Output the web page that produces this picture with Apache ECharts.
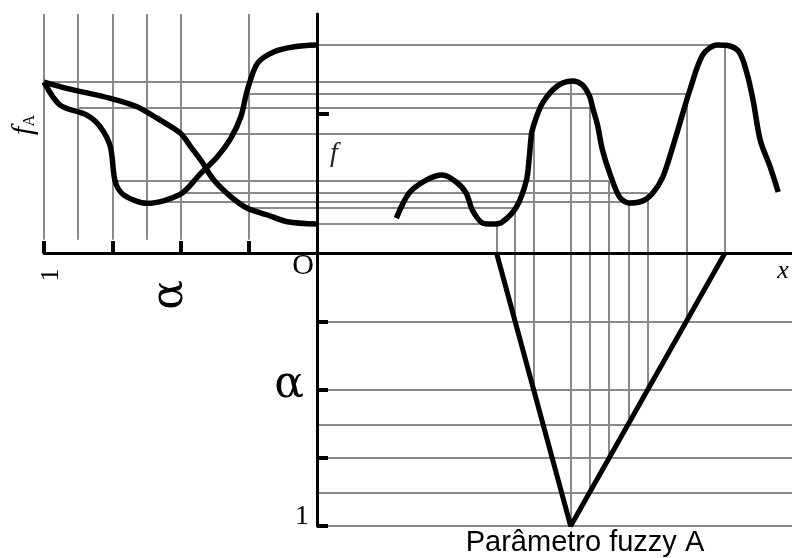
<!DOCTYPE html>
<html>
<head>
<meta charset="utf-8">
<script src="https://cdn.jsdelivr.net/npm/echarts@6/dist/echarts.min.js"></script>
<style>
  html, body { margin: 0; padding: 0; background: #fff; }
  #chart { width: 792px; height: 558px; }
</style>
</head>
<body>
<div id="chart"></div>
<script>
// Triangular fuzzy parameter A: left foot, peak, right foot (x units)
const triangleA = [3.78, 5.34, 8.59];

// alpha levels used for the construction lines and the axis ticks
const alphaLevels = [0.25, 0.5, 0.625, 0.75, 0.875, 1];
const alphaTicks = [0.25, 0.5, 0.75, 1];
const fTicksOuter = [1.21, 8.70];
const fTicksInner = [5.82];
const fGridRange = [0.55, 10];

// The function f(x)
const curveX = [1.67, 1.94, 2.30, 2.64, 2.93, 3.14, 3.27, 3.48, 3.69, 3.90, 4.20, 4.41, 4.47, 4.52, 4.62, 4.75, 4.96, 5.17, 5.38, 5.59, 5.74, 5.80, 5.90, 6.01, 6.16, 6.37, 6.58, 6.86, 7.07, 7.28, 7.49, 7.64, 7.85, 8.12, 8.42, 8.69, 8.90, 9.05, 9.18, 9.33, 9.54, 9.71];
const curveF = [1.46, 2.51, 3.05, 3.26, 2.97, 2.51, 1.80, 1.26, 1.21, 1.30, 1.93, 3.05, 4.02, 5.02, 5.69, 6.28, 6.82, 7.11, 7.20, 7.03, 6.55, 6.10, 5.40, 4.31, 3.35, 2.34, 2.09, 2.18, 2.51, 3.18, 4.44, 5.44, 6.82, 8.29, 8.70, 8.66, 8.37, 7.53, 6.40, 4.73, 3.60, 2.55];

// f_A(alpha): value of f at the left end of each alpha-cut
const leftEndAlpha = [1.0, 0.917, 0.757, 0.659, 0.586, 0.50, 0.463, 0.426, 0.378, 0.316, 0.255, 0.181, 0.108, 0];
const leftEndF = [7.15, 6.89, 6.47, 6.12, 5.64, 5.01, 4.45, 3.89, 3.05, 2.36, 1.87, 1.59, 1.31, 1.21];

// f_A(alpha): value of f at the right end of each alpha-cut
const rightEndAlpha = [1.0, 0.941, 0.843, 0.794, 0.757, 0.739, 0.708, 0.622, 0.50, 0.426, 0.365, 0.316, 0.279, 0.255, 0.218, 0.157, 0.083, 0];
const rightEndF = [7.15, 6.19, 5.77, 5.28, 4.45, 2.98, 2.43, 2.08, 2.46, 3.33, 4.03, 4.80, 5.70, 6.82, 7.94, 8.42, 8.63, 8.70];

// Projection points: alpha level, leg of the triangle, f value reached on the curve
const projAlpha = [0, 0.25, 0.5, 1, 0.875, 0.75, 0.625, 0.5, 0.25, 0];
const projLeg = ['L', 'L', 'L', 'L', 'R', 'R', 'R', 'R', 'R', 'R'];
const projF = [1.21, 1.88, 4.98, 7.15, 6.07, 3.01, 2.13, 2.51, 6.65, 8.70];

// x position of an alpha-cut end on the triangle
function cutEnd(alpha, leg) {
  const [a, b, c] = triangleA;
  return leg === 'L' ? a + (b - a) * alpha : c - (c - b) * alpha;
}

const GRAY = '#8a8a8a';
const thin = { color: GRAY, width: 2, opacity: 1, type: 'solid' };
const thick = { color: '#000', width: 5.5 };
const axisBlack = { color: '#000', width: 3 };
const tickBlack = { color: '#000', width: 4 };

const pairs = (xs, ys) => xs.map((x, i) => [x, ys[i]]);

// construction segments
const upVertical = [], downVertical = [], rightHoriz = [], leftHoriz = [];
projAlpha.forEach((al, i) => {
  const x = cutEnd(al, projLeg[i]);
  const f = projF[i];
  upVertical.push({ coords: [[x, 0], [x, f]] });
  if (al > 0) {
    downVertical.push({ coords: [[x, 0], [x, al]] });
    leftHoriz.push({ coords: [[al, f], [0, f]] });
  }
  rightHoriz.push({ coords: [[0, f], [x, f]] });
});
// vertical alpha grid of the left panel
const leftGrid = alphaLevels.map(a => ({ coords: [[a, fGridRange[0]], [a, fGridRange[1]]] }));

const serif = '"Liberation Serif", "DejaVu Serif", serif';
const greek = '"DejaVu Serif", "Liberation Serif", serif';

function segs(data, xi, yi) {
  return {
    type: 'lines', coordinateSystem: 'cartesian2d',
    xAxisIndex: xi, yAxisIndex: yi, polyline: false, silent: true,
    lineStyle: thin, data: data, z: 1
  };
}

const hidden = { show: false };

const option = {
  animation: false,
  backgroundColor: '#fff',
  grid: [
    { left: 44, top: 14, width: 273, height: 239, containLabel: false, outerBoundsMode: 'none' },
    { left: 317, top: 14, width: 475, height: 239, containLabel: false, outerBoundsMode: 'none' },
    { left: 317, top: 253, width: 475, height: 273, containLabel: false, outerBoundsMode: 'none' }
  ],
  xAxis: [
    { gridIndex: 0, type: 'value', min: 0, max: 1, inverse: true, position: 'bottom', z: 10,
      axisLine: { show: true, onZero: false, lineStyle: axisBlack },
      axisTick: { show: true, inside: true, length: 12, customValues: alphaTicks, lineStyle: tickBlack },
      axisLabel: hidden, splitLine: hidden },
    { gridIndex: 1, type: 'value', min: 0, max: 10, position: 'bottom', z: 10,
      axisLine: { show: true, onZero: false, lineStyle: axisBlack },
      axisTick: hidden, axisLabel: hidden, splitLine: hidden },
    { gridIndex: 2, type: 'value', min: 0, max: 10, position: 'top',
      axisLine: hidden, axisTick: hidden, axisLabel: hidden, splitLine: hidden }
  ],
  yAxis: [
    { gridIndex: 0, type: 'value', min: 0, max: 10, position: 'left',
      axisLine: hidden, axisTick: hidden, axisLabel: hidden, splitLine: hidden },
    { gridIndex: 1, type: 'value', min: 0, max: 10, position: 'left', z: 10,
      axisLine: { show: true, onZero: false, lineStyle: axisBlack },
      axisTick: { show: true, inside: false, length: 7, customValues: fTicksOuter, lineStyle: tickBlack },
      axisLabel: hidden, splitLine: hidden },
    { gridIndex: 1, type: 'value', min: 0, max: 10, position: 'left', offset: 0, z: 10,
      axisLine: { show: false, onZero: false },
      axisTick: { show: true, inside: true, length: 12, customValues: fTicksInner, lineStyle: tickBlack },
      axisLabel: hidden, splitLine: hidden },
    { gridIndex: 2, type: 'value', min: 0, max: 1, inverse: true, position: 'left', z: 10,
      axisLine: { show: true, onZero: false, lineStyle: axisBlack },
      axisTick: { show: true, inside: true, length: 11, customValues: alphaTicks, lineStyle: tickBlack },
      axisLabel: hidden, splitLine: hidden }
  ],
  series: [
    segs(leftGrid, 0, 0),
    // horizontal alpha grid of the lower panel
    { type: 'line', xAxisIndex: 2, yAxisIndex: 3, data: [], z: 1, silent: true,
      markLine: { silent: true, symbol: ['none', 'none'], label: { show: false }, lineStyle: thin,
        data: alphaLevels.map(a => ({ yAxis: a })) } },
    segs(upVertical, 1, 1),
    segs(rightHoriz, 1, 1),
    segs(downVertical, 2, 3),
    segs(leftHoriz, 0, 0),
    // f_A, left end of the cut
    { type: 'line', xAxisIndex: 0, yAxisIndex: 0, data: pairs(leftEndAlpha, leftEndF),
      showSymbol: false, smooth: 0.3, lineStyle: thick, z: 5, silent: true },
    // f_A, right end of the cut
    { type: 'line', xAxisIndex: 0, yAxisIndex: 0, data: pairs(rightEndAlpha, rightEndF),
      showSymbol: false, smooth: 0.3, lineStyle: thick, z: 5, silent: true },
    // f(x)
    { type: 'line', xAxisIndex: 1, yAxisIndex: 1, data: pairs(curveX, curveF),
      showSymbol: false, smooth: 0.3, lineStyle: thick, z: 5, silent: true },
    // membership function of A, alpha running downward
    { type: 'line', xAxisIndex: 2, yAxisIndex: 3,
      data: [[triangleA[0], 0], [triangleA[1], 1], [triangleA[2], 0]],
      showSymbol: false, lineStyle: { color: '#000', width: 5 }, z: 5, silent: true }
  ],
  graphic: [
    { type: 'text', x: 24, y: 125, rotation: Math.PI / 2, z: 10,
      style: { text: '{f|f}{s|A}', align: 'center', verticalAlign: 'middle',
        rich: {
          f: { font: 'italic 30px ' + serif, fill: '#000' },
          s: { font: '16px ' + serif, fill: '#000', padding: [12, 0, 0, 0] }
        } } },
    { type: 'text', x: 51, y: 275, rotation: Math.PI / 2, z: 10,
      style: { text: '1', font: '26px ' + serif, fill: '#000', align: 'center', verticalAlign: 'middle' } },
    { type: 'text', x: 171, y: 295, rotation: Math.PI / 2, z: 10,
      style: { text: 'α', font: '44px ' + greek, fill: '#000', align: 'center', verticalAlign: 'middle' } },
    { type: 'text', x: 303, y: 266, z: 10,
      style: { text: 'O', font: '30px ' + serif, fill: '#000', align: 'center', verticalAlign: 'middle' } },
    { type: 'text', x: 334, y: 154, z: 10,
      style: { text: 'f', font: 'italic 28px ' + serif, fill: '#222', align: 'center', verticalAlign: 'middle' } },
    { type: 'text', x: 783, y: 271, z: 10,
      style: { text: 'x', font: 'italic 26px ' + serif, fill: '#000', align: 'center', verticalAlign: 'middle' } },
    { type: 'text', x: 289, y: 386, z: 10,
      style: { text: 'α', font: '44px ' + greek, fill: '#000', align: 'center', verticalAlign: 'middle' } },
    { type: 'text', x: 309, y: 517, z: 10,
      style: { text: '1', font: '28px ' + serif, fill: '#000', align: 'right', verticalAlign: 'middle' } },
    { type: 'text', x: 585, y: 543, z: 10,
      style: { text: 'Parâmetro fuzzy A', font: '29px "Liberation Sans", Arial, sans-serif', fill: '#000', align: 'center', verticalAlign: 'middle' } }
  ]
};

const chart = echarts.init(document.getElementById('chart'), null, { renderer: 'canvas' });
chart.setOption(option);
</script>
</body>
</html>
